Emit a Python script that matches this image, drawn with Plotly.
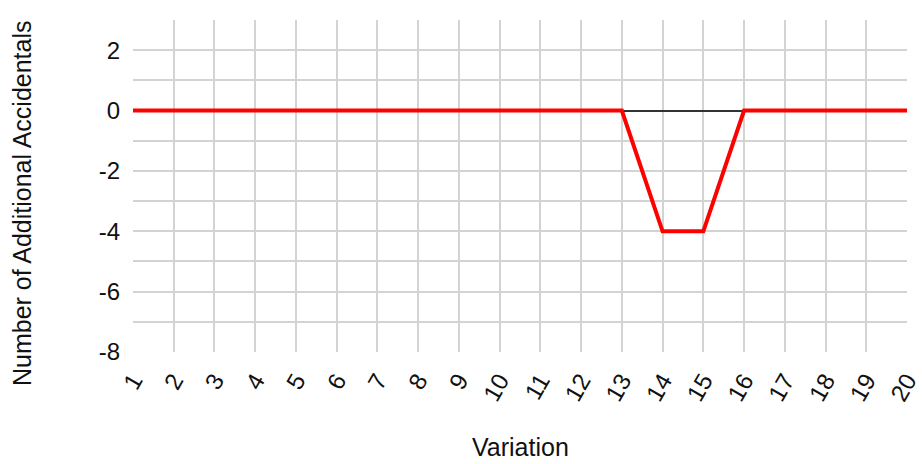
import plotly.graph_objects as go

variations = list(range(1, 21))
accidentals = [0]*13 + [-4, -4] + [0]*5
y_ticks = list(range(-8, 4))
y_labels = [str(v) if v % 2 == 0 else "" for v in y_ticks]
x_labels = [str(v) for v in variations]

FONT = "Liberation Sans, Arial, sans-serif"
GRID = "#d3d3d3"

fig = go.Figure()
fig.add_trace(go.Scatter(
    x=variations, y=accidentals, mode="lines",
    line=dict(color="#ff0000", width=4),
    hoverinfo="skip", showlegend=False,
))

fig.update_layout(
    width=922, height=464,
    margin=dict(l=133, r=15, t=20, b=112),
    paper_bgcolor="white", plot_bgcolor="white",
    font=dict(family=FONT, size=24, color="#111"),
    xaxis=dict(
        range=[1, 20], tickmode="array", tickvals=variations, ticktext=x_labels,
        tickangle=-60, showgrid=True, gridcolor=GRID, gridwidth=2,
        zeroline=False, showline=False, ticks="", ticklabelstandoff=9,
        automargin=False, tickfont=dict(family=FONT, size=24, color="#111"),
    ),
    yaxis=dict(
        range=[-8, 3], tickmode="array", tickvals=y_ticks, ticktext=y_labels,
        showgrid=True, gridcolor=GRID, gridwidth=2,
        zeroline=True, zerolinecolor="#333", zerolinewidth=1.5,
        showline=False, ticks="", ticklabelstandoff=12, automargin=False,
        tickfont=dict(family=FONT, size=24, color="#111"),
    ),
    annotations=[
        dict(text="Variation", xref="paper", yref="paper", x=0.5, y=0,
             yshift=-95, xanchor="center", yanchor="middle", showarrow=False,
             font=dict(family=FONT, size=25, color="#111")),
        dict(text="Number of Additional Accidentals", xref="paper", yref="paper",
             x=0, xshift=-111, y=0.5, yshift=-17, textangle=-90,
             xanchor="center", yanchor="middle", showarrow=False,
             font=dict(family=FONT, size=25, color="#111")),
    ],
)

fig.write_html("out.html")
